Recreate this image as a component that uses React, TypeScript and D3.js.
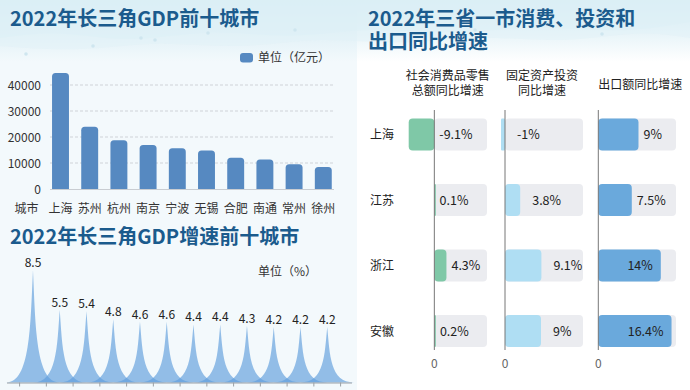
import React from 'react';
import * as d3 from 'd3';

// GDP top ten (亿元)
const gdpCities = ['上海', '苏州', '杭州', '南京', '宁波', '无锡', '合肥', '南通', '常州', '徐州'];
const gdpValues = [44653, 23958, 18753, 16908, 15704, 14851, 12013, 11380, 9550, 8458];
const gdpTicks = [0, 10000, 20000, 30000, 40000];

// GDP growth top cities (%)
const growthCities = ['舟山', '衢州', '淮南', '盐城', '亳州', '泰州', '绍兴', '丽水', '宿州', '温州', '阜阳', '蚌埠'];
const growthValues = [8.5, 5.5, 5.4, 4.8, 4.6, 4.6, 4.4, 4.4, 4.3, 4.2, 4.2, 4.2];

// three provinces + Shanghai (%)
const regions = ['上海', '江苏', '浙江', '安徽'];
const retailValues = [-9.1, 0.1, 4.3, 0.2];
const investValues = [-1, 3.8, 9.1, 9];
const exportValues = [9, 7.5, 14, 16.4];

const FONT = '"Noto Sans CJK SC", "Noto Sans", sans-serif';
const TITLE = '#1b5b8d';

const fmt = (v: number) => `${v}%`;

function Waves() {
  // decorative header waves
  const line = d3.line<[number, number]>().curve(d3.curveBasis);
  const w1: [number, number][] = [[0, 38], [60, 30], [130, 44], [210, 28], [290, 40], [370, 26], [450, 36], [540, 24], [620, 34], [690, 22]];
  const w2: [number, number][] = [[0, 46], [80, 52], [160, 40], [240, 50], [320, 36], [400, 46], [480, 34], [560, 44], [640, 30], [690, 38]];
  const dots: [number, number][] = [[26, 54], [93, 46], [141, 38], [155, 40], [208, 33], [295, 30], [392, 34], [475, 30], [550, 22], [602, 34]];
  return (
    <g>
      <defs>
        <linearGradient id="topGrad" x1="0" y1="0" x2="0" y2="1">
          <stop offset="0" stopColor="#cde8f1" />
          <stop offset="1" stopColor="#cde8f1" stopOpacity={0} />
        </linearGradient>
      </defs>
      <rect x={0} y={0} width={690} height={62} fill="url(#topGrad)" />
      <path d={line(w1) + 'L690,0L0,0Z'} fill="#d8eef5" opacity={0.6} />
      <path d={line(w2) + 'L690,0L0,0Z'} fill="#e2f2f7" opacity={0.5} />
      {dots.map((d, i) => (
        <circle key={i} cx={d[0]} cy={d[1]} r={1.8} fill="#cfe6ef" />
      ))}
    </g>
  );
}

function GdpChart() {
  const x = d3.scaleBand<string>().domain(gdpCities).range([46.2, 337.6]).paddingInner(0.42).paddingOuter(0.2);
  const y = d3.scaleLinear().domain([0, 40000]).range([189, 85]);
  const bw = x.bandwidth();
  return (
    <g fontFamily={FONT}>
      <text x={10} y={25.5} fontSize={20} fontWeight={700} fill={TITLE}>2022年长三角GDP前十城市</text>
      <rect x={240} y={53} width={13} height={9.5} rx={3} fill="#5689c1" />
      <text x={258} y={62} fontSize={12} fill="#333">单位（亿元）</text>
      {gdpTicks.map((t) => (
        <g key={t}>
          {t > 0 && (
            <line x1={50} x2={334} y1={y(t)} y2={y(t)} stroke="#cfd3d8" strokeDasharray="3,2" />
          )}
          <text x={41} y={y(t) + 4.5} fontSize={12} textAnchor="end" fill="#333">{t}</text>
        </g>
      ))}
      <line x1={50} x2={334} y1={y(0) + 0.5} y2={y(0) + 0.5} stroke="#c9cdd2" />
      {gdpCities.map((c, i) => {
        const x0 = x(c)!;
        const top = y(gdpValues[i]);
        const h = y(0) - top;
        const r = 3.5;
        const d = `M${x0},${y(0)}V${top + r}Q${x0},${top} ${x0 + r},${top}H${x0 + bw - r}Q${x0 + bw},${top} ${x0 + bw},${top + r}V${y(0)}Z`;
        return <path key={c} d={h > 0 ? d : ''} fill="#5689c1" />;
      })}
      <text x={26.5} y={212.5} fontSize={12} textAnchor="middle" fill="#333">城市</text>
      {gdpCities.map((c) => (
        <text key={c} x={x(c)! + bw / 2} y={212.5} fontSize={12} textAnchor="middle" fill="#333">{c}</text>
      ))}
    </g>
  );
}

function GrowthChart() {
  const x = d3.scaleBand<string>().domain(growthCities).range([19.6, 340.6]);
  const y = d3.scaleLinear().domain([0, 10]).range([382.5, 250.5]);
  const step = x.step();
  const base = y(0);
  return (
    <g fontFamily={FONT}>
      <text x={10} y={244} fontSize={20} fontWeight={700} fill={TITLE}>2022年长三角GDP增速前十城市</text>
      <text x={258} y={275.5} fontSize={12} fill="#333">单位（%）</text>
      {growthCities.map((c, i) => {
        const cx = x(c)! + step / 2;
        const top = y(growthValues[i]);
        const w = step;
        const mid = top + (base - top) / 2;
        const d = `M${cx - w},${base}C${cx - 0.1 * w},${base} ${cx - 0.1 * w},${mid} ${cx},${top}C${cx + 0.1 * w},${mid} ${cx + 0.1 * w},${base} ${cx + w},${base}Z`;
        return <path key={c} d={d} fill="#5f9edc" fillOpacity={0.66} />;
      })}
      {growthCities.map((c, i) => (
        <text key={c} x={x(c)! + step / 2} y={y(growthValues[i]) - 3} fontSize={12} textAnchor="middle" fill="#222">
          {growthValues[i]}
        </text>
      ))}
      <line x1={7} x2={352} y1={base + 0.5} y2={base + 0.5} stroke="#9aa0a6" />
      {d3.range(growthCities.length + 1).map((k) => (
        <line key={k} x1={19.6 + k * step} x2={19.6 + k * step} y1={base} y2={base + 4} stroke="#9aa0a6" />
      ))}
      {growthCities.map((c) => (
        <text key={c} x={x(c)! + step / 2} y={401} fontSize={12} textAnchor="middle" fill="#333">{c}</text>
      ))}
    </g>
  );
}

function ProvinceChart() {
  const yc = d3.scalePoint<string>().domain(regions).range([134.5, 331]);
  const barH = 32;
  const cols = [
    { title: ['社会消费品零售', '总额同比增速'], values: retailValues, color: '#7fc8a7', x: d3.scaleLinear().domain([-9.1, 18.7]).range([408.7, 487]), gap: 5 },
    { title: ['固定资产投资', '同比增速'], values: investValues, color: '#afdef3', x: d3.scaleLinear().domain([-1, 19.5]).range([501, 583]), gap: 12 },
    { title: ['出口额同比增速'], values: exportValues, color: '#6aa9dc', x: d3.scaleLinear().domain([0, 17.4]).range([598.3, 676]), gap: 5 },
  ];
  return (
    <g fontFamily={FONT}>
      <text x={368} y={26} fontSize={20} fontWeight={700} fill={TITLE}>2022年三省一市消费、投资和</text>
      <text x={368} y={49} fontSize={20} fontWeight={700} fill={TITLE}>出口同比增速</text>
      {regions.map((r) => (
        <text key={r} x={370} y={yc(r)! + 4.5} fontSize={12} fill="#222">{r}</text>
      ))}
      {cols.map((col, ci) => {
        const [d0, d1] = col.x.domain();
        const zero = col.x(0);
        const mx = (col.x(d0) + col.x(d1)) / 2 + (ci === 2 ? 3 : 0);
        return (
          <g key={ci}>
            {col.title.map((t, li) => (
              <text key={li} x={mx} y={col.title.length > 1 ? 79.5 + li * 15.5 : 88.5} fontSize={12} textAnchor="middle" fill="#222">{t}</text>
            ))}
            {regions.map((r, i) => {
              const v = col.values[i];
              const cy = yc(r)!;
              const end = col.x(v);
              const bgEnd = col.x(d1);
              const x0 = Math.min(zero, end);
              const bw = Math.abs(end - zero);
              const label = fmt(v);
              const lw = label.length * 7;
              const outside = Math.max(end, zero) + col.gap + lw < bgEnd + 4;
              return (
                <g key={r}>
                  <rect x={zero} y={cy - barH / 2} width={bgEnd - zero} height={barH} rx={4} fill="#ebecf0" />
                  <rect x={x0} y={cy - barH / 2} width={Math.max(bw, 1.5)} height={barH} rx={bw > 6 ? 4 : 1} fill={col.color} />
                  <text
                    x={outside ? Math.max(end, zero) + col.gap : end - 8}
                    y={cy + 4.5}
                    fontSize={12.5}
                    textAnchor={outside ? 'start' : 'end'}
                    fill="#222"
                  >
                    {label}
                  </text>
                </g>
              );
            })}
            <line x1={zero} x2={zero} y1={110} y2={350} stroke="#777" strokeWidth={1} />
            <text x={zero} y={367.5} fontSize={12} textAnchor="middle" fill="#666">0</text>
          </g>
        );
      })}
    </g>
  );
}

export default function App() {
  return (
    <div style={{ position: 'fixed', left: 0, top: 0, width: 690, height: 390 }}>
      <svg width={690} height={390} style={{ display: 'block' }}>
        <rect x={0} y={0} width={690} height={390} fill="#f3f9fc" />
        <rect x={357} y={0} width={333} height={390} fill="#ffffff" />
        <Waves />
        <GdpChart />
        <GrowthChart />
        <ProvinceChart />
      </svg>
    </div>
  );
}
